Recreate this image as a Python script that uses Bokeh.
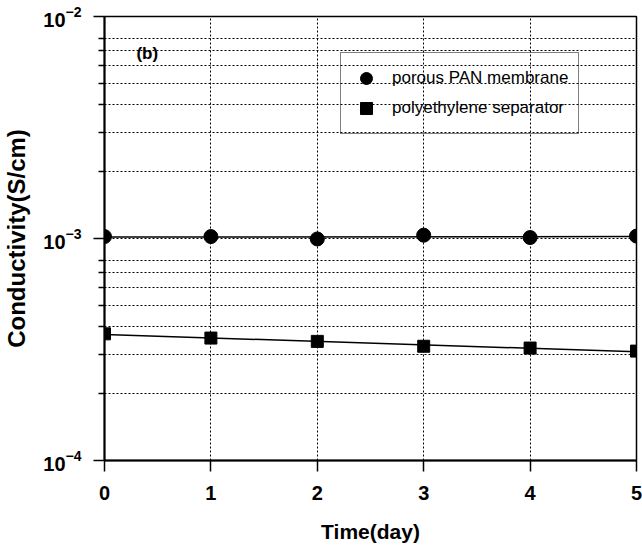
import numpy as np
from bokeh.plotting import figure
from bokeh.models import (Range1d, FixedTicker, Legend, LegendItem, Label,
                          LogTickFormatter)
from bokeh.embed import file_html
from bokeh.resources import INLINE

# ---- data ----
days = [0, 1, 2, 3, 4, 5]
pan_membrane = [1.02e-3, 1.02e-3, 0.995e-3, 1.035e-3, 1.01e-3, 1.025e-3]
pe_separator = [3.72e-4, 3.56e-4, 3.44e-4, 3.27e-4, 3.21e-4, 3.11e-4]
series_names = ["porous PAN membrane", "polyethylene separator"]
x_ticks = [0, 1, 2, 3, 4, 5]
y_major = [1e-4, 1e-3, 1e-2]
y_minor = [2e-4, 3e-4, 4e-4, 5e-4, 6e-4, 7e-4, 8e-4,
           2e-3, 3e-3, 4e-3, 5e-3, 6e-3, 7e-3, 8e-3]

# straight-line fits (on log scale) through each series
def logfit(x, y):
    c = np.polyfit(x, np.log10(y), 1)
    xe = [min(x), max(x)]
    return xe, [10 ** np.polyval(c, v) for v in xe]

pan_fx, pan_fy = logfit(days, pan_membrane)
pe_fx, pe_fy = logfit(days, pe_separator)

FONT = "Liberation Sans"

p = figure(width=642, height=547, y_axis_type="log",
           x_range=Range1d(0, 5), y_range=Range1d(1e-4, 1e-2),
           output_backend="svg", toolbar_location=None,
           min_border_left=103, min_border_right=6,
           min_border_top=16, min_border_bottom=87)
p.background_fill_color = "white"
p.border_fill_color = "white"
p.outline_line_color = "black"
p.outline_line_width = 1.5

# axes
p.xaxis.ticker = FixedTicker(ticks=x_ticks)
p.yaxis.ticker = FixedTicker(ticks=y_major, minor_ticks=y_minor)
p.yaxis.formatter = LogTickFormatter()

for ax in (p.xaxis[0], p.yaxis[0]):
    ax.axis_line_color = "black"
    ax.axis_line_width = 2
    ax.major_tick_line_color = "black"
    ax.major_tick_line_width = 1.5
    ax.major_tick_out = 11
    ax.major_tick_in = 0
    ax.major_label_text_font = FONT
    ax.major_label_text_font_style = "bold"
    ax.major_label_text_font_size = "20px"
    ax.major_label_text_color = "black"
    ax.axis_label_text_font = FONT
    ax.axis_label_text_font_style = "bold"
    ax.axis_label_text_color = "black"

p.xaxis.minor_tick_line_color = None
p.xaxis.major_label_standoff = 14
p.xaxis.axis_label = "Time(day)"
p.xaxis.axis_label_text_font_size = "21px"
p.xaxis.axis_label_standoff = 17

p.yaxis.minor_tick_line_color = "black"
p.yaxis.minor_tick_line_width = 1.5
p.yaxis.minor_tick_out = 6
p.yaxis.minor_tick_in = 0
p.yaxis.major_label_standoff = 12
p.yaxis.axis_label = "Conductivity(S/cm)"
p.yaxis.axis_label_text_font_size = "24px"
p.yaxis.axis_label_standoff = 10

# grids: dotted
for g in (p.xgrid[0], p.ygrid[0]):
    g.grid_line_color = "black"
    g.grid_line_width = 1
    g.grid_line_dash = "2 2"
p.ygrid.minor_grid_line_color = "black"
p.ygrid.minor_grid_line_width = 1
p.ygrid.minor_grid_line_dash = "2 2"

# fit lines
p.line(pan_fx, pan_fy, line_color="black", line_width=1.5)
p.line(pe_fx, pe_fy, line_color="black", line_width=1.5)

# markers
r1 = p.scatter(days, pan_membrane, marker="circle", size=14,
               fill_color="black", line_color="black")
r2 = p.scatter(days, pe_separator, marker="square", size=12,
               fill_color="black", line_color="black")

legend = Legend(items=[LegendItem(label=series_names[0], renderers=[r1]),
                       LegendItem(label=series_names[1], renderers=[r2])],
                location=(236, 326))
legend.background_fill_alpha = 0
legend.border_line_color = "black"
legend.border_line_width = 1
legend.padding = 10
legend.margin = 0
legend.spacing = 0
legend.glyph_width = 30
legend.glyph_height = 30
legend.label_height = 30
legend.label_standoff = 11
legend.label_text_font = FONT
legend.label_text_font_size = "17px"
legend.label_text_color = "black"
p.add_layout(legend)

p.add_layout(Label(x=0.3, y=7.5e-3, text="(b)", text_font=FONT,
                   text_font_style="bold", text_font_size="17px",
                   text_baseline="top", text_align="left",
                   text_color="black"))

open("out.html", "w").write(file_html(p, INLINE))
